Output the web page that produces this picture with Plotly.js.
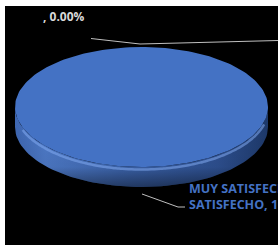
<!DOCTYPE html>
<html>
<head>
<meta charset="utf-8">
<script src="https://cdn.plot.ly/plotly-3.0.1.min.js"></script>
<style>html,body{margin:0;padding:0;background:#fff;}#chart{width:278px;height:245px;}</style>
</head>
<body>
<div id="chart"></div>
<script>
// ---- data ----
var categories = ["", "MUY SATISFECHO, SATISFECHO"];
var values = [0, 100];
var sliceColors = ["#a5a5a5", "#4472c4"];

// ---- geometry (pixel-like axis units) ----
var cx = 141.5, cy = 107, rx = 126.5, ry = 60, depth = 20;
var total = values.reduce(function(a, b){ return a + b; }, 0);

function ellPt(t, dy){ return [cx + rx * Math.cos(t), cy + dy + ry * Math.sin(t)]; }

var traces = [];
var cum = 0;
var start = -Math.PI / 2;
var sliceArcs = [];
for (var i = 0; i < values.length; i++) {
  var frac = values[i] / total;
  var a0 = start + cum * 2 * Math.PI;
  var a1 = start + (cum + frac) * 2 * Math.PI;
  cum += frac;
  sliceArcs.push([a0, a1]);
}

function sideTrace(a0, a1, fillgrad) {
  var xs = [], ys = [];
  var ranges = [];
  [[a0, a1], [a0 - 2*Math.PI, a1 - 2*Math.PI], [a0 + 2*Math.PI, a1 + 2*Math.PI]].forEach(function(r){
    var l = Math.max(r[0], 0), h = Math.min(r[1], Math.PI);
    if (h > l) ranges.push([l, h]);
  });
  ranges.forEach(function(r){
    var n = 80, k;
    for (k = 0; k <= n; k++) { var t = r[0] + (r[1]-r[0]) * k / n; var p = ellPt(t, 0); xs.push(p[0]); ys.push(p[1]); }
    for (k = n; k >= 0; k--) { var t2 = r[0] + (r[1]-r[0]) * k / n; var q = ellPt(t2, depth); xs.push(q[0]); ys.push(q[1]); }
    xs.push(null); ys.push(null);
  });
  return {x: xs, y: ys, mode: 'lines', fill: 'toself', fillgradient: fillgrad, line: {width: 0}, hoverinfo: 'skip', showlegend: false};
}

for (var s = 0; s < values.length; s++) {
  if (values[s] <= 0) continue;
  traces.push(sideTrace(sliceArcs[s][0], sliceArcs[s][1], {
    type: 'horizontal',
    colorscale: [[0, '#3f68b4'], [0.12, '#4f7ccb'], [0.45, '#3d66b0'], [0.8, '#2f5294'], [1, '#1e3a6c']]
  }));
  traces.push(sideTrace(sliceArcs[s][0], sliceArcs[s][1], {
    type: 'vertical',
    start: cy, stop: cy + ry + depth,
    colorscale: [[0, 'rgba(0,0,0,0)'], [0.75, 'rgba(0,0,0,0.08)'], [1, 'rgba(0,0,0,0.45)']]
  }));
}

// bevel highlight just under the top face front edge
(function(){
  var xs = [], ys = [];
  for (var k = 0; k <= 100; k++) { var t = 0.25 + (Math.PI - 0.6) * k / 100; var p = ellPt(t, 2.5); xs.push(p[0]); ys.push(p[1]); }
  traces.push({x: xs, y: ys, mode: 'lines', line: {color: 'rgba(130,170,240,0.55)', width: 2.5, shape: 'spline'}, hoverinfo: 'skip', showlegend: false});
})();

// top faces
for (var s2 = 0; s2 < values.length; s2++) {
  if (values[s2] <= 0) continue;
  var b0 = sliceArcs[s2][0], b1 = sliceArcs[s2][1];
  var xs = [cx], ys = [cy];
  var n = 200;
  for (var k = 0; k <= n; k++) { var t = b0 + (b1 - b0) * k / n; var p = ellPt(t, 0); xs.push(p[0]); ys.push(p[1]); }
  xs.push(cx); ys.push(cy);
  traces.push({x: xs, y: ys, mode: 'lines', fill: 'toself', fillcolor: sliceColors[s2], line: {width: 0}, hoverinfo: 'skip', showlegend: false});
}

// leader lines
traces.push({x: [91, 140, 278], y: [38.5, 44, 40.5], mode: 'lines', line: {color: '#bfbfbf', width: 1}, hoverinfo: 'skip', showlegend: false});
traces.push({x: [142, 178, 185], y: [194, 207, 207], mode: 'lines', line: {color: '#bfbfbf', width: 1}, hoverinfo: 'skip', showlegend: false});

function pct(v){ return (v / total * 100).toFixed(2) + '%'; }
var lab0 = categories[0] + ', ' + pct(values[0]);
var lab1 = categories[1].replace(', ', '<br>') + ', ' + pct(values[1]);

var layout = {
  width: 278, height: 245,
  margin: {l: 5, r: 0, t: 6, b: 0, pad: 0},
  paper_bgcolor: '#ffffff',
  plot_bgcolor: '#000000',
  xaxis: {range: [5, 278], visible: false, fixedrange: true},
  yaxis: {range: [245, 6], visible: false, fixedrange: true},
  showlegend: false,
  annotations: [
    {x: 41, y: 16, xref: 'x', yref: 'y', text: lab0, showarrow: false, xanchor: 'left', yanchor: 'middle',
     font: {family: '"Open Sans", sans-serif', size: 12, weight: 700, color: '#d9d9d9'}},
    {x: 187, y: 196, xref: 'x', yref: 'y', text: lab1, showarrow: false, xanchor: 'left', yanchor: 'middle', align: 'left',
     font: {family: '"Open Sans", sans-serif', size: 12.5, weight: 700, color: '#4472c4'}}
  ]
};

Plotly.newPlot('chart', traces, layout, {staticPlot: true, displayModeBar: false});
</script>
</body>
</html>
